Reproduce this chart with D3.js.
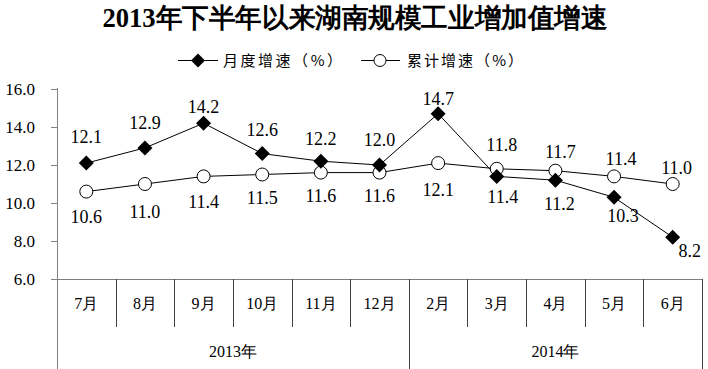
<!DOCTYPE html>
<html><head><meta charset="utf-8">
<script src="https://cdn.jsdelivr.net/npm/d3@7"></script>
<style>body{margin:0;background:#fff}svg{display:block}</style>
</head><body>
<svg id="c" width="708" height="369"></svg>
<script>
const categories = ["7月","8月","9月","10月","11月","12月","2月","3月","4月","5月","6月"];
const groups = [{label:"2013年", start:0, end:6},{label:"2014年", start:6, end:11}];
const monthly = [12.1,12.9,14.2,12.6,12.2,12.0,14.7,11.4,11.2,10.3,8.2];
const cumulative = [10.6,11.0,11.4,11.5,11.6,11.6,12.1,11.8,11.7,11.4,11.0];
const yTicks = [6,8,10,12,14,16];
const seriesNames = ["月度增速（%）","累计增速（%）"];
const title = "2013年下半年以来湖南规模工业增加值增速";

// label layout (pixel offsets from point: dx, dy to baseline)
const monthlyLabelOffset = [[0,-20],[0,-19],[0,-10],[0,-18],[0,-16],[0,-19],[0,-9],[6,27],[4,30],[9,25],[17,20]];
const cumulativeLabelOffset = [[0,31],[0,34],[0,32],[0,29],[0,29],[0,29],[0,33],[5,-18],[5,-13],[7,-11],[4,-10]];

const SERIF = "Liberation Serif";
const svg = d3.select("#c");
const L = 57, R = 702, T = 89, B = 279;
const x = d3.scaleBand().domain(d3.range(categories.length)).range([L, R]);
const y = d3.scaleLinear().domain([6,16]).range([B, T]);
const diamond = s => `M0,${-s}L${s},0L0,${s}L${-s},0Z`;

// title
svg.append("text").attr("x", 355).attr("y", 27).attr("text-anchor","middle")
  .style("font-family", SERIF).style("font-weight","bold").style("font-size","27px")
  .attr("textLength", 505).attr("lengthAdjust","spacingAndGlyphs").text(title);

// legend
const lg = svg.append("g");
lg.append("line").attr("x1",178).attr("x2",218).attr("y1",60.5).attr("y2",60.5).attr("stroke","#000");
lg.append("path").attr("d", diamond(7)).attr("transform","translate(198,60.5)").attr("fill","#000");
lg.append("text").attr("x",223).attr("y",66).style("font-family","Noto Sans CJK SC").style("font-size","15px")
  .attr("textLength",119).attr("lengthAdjust","spacing").text(seriesNames[0]);
lg.append("line").attr("x1",361).attr("x2",400).attr("y1",60.5).attr("y2",60.5).attr("stroke","#000");
lg.append("circle").attr("cx",380).attr("cy",60.5).attr("r",6).attr("fill","#fff").attr("stroke","#000");
lg.append("text").attr("x",407).attr("y",66).style("font-family","Noto Sans CJK SC").style("font-size","15px")
  .attr("textLength",116).attr("lengthAdjust","spacing").text(seriesNames[1]);

// y axis
const yAxis = d3.axisLeft(y).tickValues(yTicks).tickFormat(d3.format(".1f")).tickSize(6).tickPadding(16);
const ya = svg.append("g").attr("transform",`translate(${L},0)`).call(yAxis);
ya.select(".domain").remove();
ya.selectAll(".tick line").attr("stroke","#808080");
ya.selectAll(".tick text").style("font-family",SERIF).style("font-size","17px").attr("fill","#000").attr("dy","0.35em");
svg.append("line").attr("x1",L+0.5).attr("x2",L+0.5).attr("y1",T-1).attr("y2",369).attr("stroke","#808080");

// x axis baseline
svg.append("line").attr("x1",L-6).attr("x2",R).attr("y1",B+0.5).attr("y2",B+0.5).attr("stroke","#808080");

// category dividers and labels
const rowBottom = 327;
categories.forEach((c,i)=>{
  const xr = x(i) + x.bandwidth();
  const isGroupEdge = groups.some(g => g.end === i+1);
  svg.append("line").attr("x1",Math.round(xr)+0.5).attr("x2",Math.round(xr)+0.5).attr("y1",B).attr("y2", isGroupEdge ? 369 : rowBottom)
    .attr("stroke", "#404040");
  svg.append("text").attr("x", x(i)+x.bandwidth()/2).attr("y", 309).attr("text-anchor","middle")
    .style("font-family",SERIF).style("font-size","16px").text(c);
});
groups.forEach(g=>{
  const cx = (x(g.start) + x(g.end-1) + x.bandwidth())/2;
  svg.append("text").attr("x", cx).attr("y", 357).attr("text-anchor","middle")
    .style("font-family",SERIF).style("font-size","16px").text(g.label);
});

// lines
const px = i => x(i) + x.bandwidth()/2;
const line = d3.line().x((d,i)=>px(i)).y(d=>y(d));
svg.append("path").datum(cumulative).attr("d",line).attr("fill","none").attr("stroke","#000").attr("stroke-width",1);
svg.append("path").datum(monthly).attr("d",line).attr("fill","none").attr("stroke","#000").attr("stroke-width",1);

// markers
svg.selectAll(".cm").data(cumulative).enter().append("circle").attr("class","cm")
  .attr("cx",(d,i)=>px(i)).attr("cy",d=>y(d)).attr("r",6.5).attr("fill","#fff").attr("stroke","#000");
svg.selectAll(".mm").data(monthly).enter().append("path").attr("class","mm")
  .attr("d", diamond(7.5))
  .attr("transform",(d,i)=>`translate(${px(i)},${y(d)})`).attr("fill","#000");

// data labels
svg.selectAll(".ml").data(monthly).enter().append("text").attr("class","ml")
  .attr("x",(d,i)=>px(i)+monthlyLabelOffset[i][0]).attr("y",(d,i)=>y(d)+monthlyLabelOffset[i][1])
  .attr("text-anchor","middle").style("font-family",SERIF).style("font-size","18px").text(d=>d.toFixed(1));
svg.selectAll(".cl").data(cumulative).enter().append("text").attr("class","cl")
  .attr("x",(d,i)=>px(i)+cumulativeLabelOffset[i][0]).attr("y",(d,i)=>y(d)+cumulativeLabelOffset[i][1])
  .attr("text-anchor","middle").style("font-family",SERIF).style("font-size","18px").text(d=>d.toFixed(1));
</script>
</body></html>
